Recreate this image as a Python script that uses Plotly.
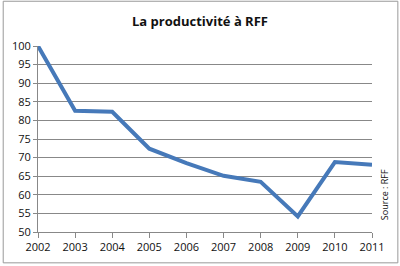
import plotly.graph_objects as go

years = ["2002", "2003", "2004", "2005", "2006", "2007", "2008", "2009", "2010", "2011"]
productivity = [100, 82.6, 82.3, 72.4, 68.5, 65.1, 63.5, 54.2, 68.8, 68.1]
y_ticks = [50, 55, 60, 65, 70, 75, 80, 85, 90, 95, 100]

W, H = 400, 266
L, R, T, B = 36, 28, 46, 33
pw, ph = W - L - R, H - T - B

fig = go.Figure()
fig.add_trace(go.Scatter(
    x=list(range(len(years))), y=productivity, mode="lines",
    line=dict(color="#4679b9", width=4), hoverinfo="skip", showlegend=False,
))

font = "Open Sans, Liberation Sans, Arial, sans-serif"
fig.update_layout(
    width=W, height=H,
    margin=dict(l=L, r=R, t=T, b=B),
    paper_bgcolor="white", plot_bgcolor="white",
    title=dict(text="<b>La productivité à RFF</b>", x=0.5, xanchor="center",
               y=1 - 21 / H, yanchor="middle",
               font=dict(family=font, size=13, color="#111")),
    xaxis=dict(range=[0, len(years) - 1], tickmode="array",
               tickvals=list(range(len(years))), ticktext=years,
               showgrid=False, zeroline=False, showline=True, linecolor="#888",
               linewidth=1, ticks="outside", ticklen=5, tickcolor="#888",
               tickfont=dict(family=font, size=11, color="#111")),
    yaxis=dict(range=[50, 100], tickvals=y_ticks, showgrid=True,
               gridcolor="#888", gridwidth=1, zeroline=False, showline=True,
               linecolor="#888", linewidth=1, ticks="outside", ticklen=4,
               tickcolor="#888", tickfont=dict(family=font, size=11, color="#111")),
    shapes=[dict(type="rect", xref="paper", yref="paper",
                 x0=(1 - L) / pw, x1=(398 - L) / pw,
                 y0=(T + ph - 264) / ph, y1=(T + ph - 1) / ph,
                 line=dict(color="#999", width=1), fillcolor="rgba(0,0,0,0)")],
    annotations=[dict(text="Source : RFF", textangle=-90, xref="paper", yref="paper",
                      x=(384 - L) / pw, y=(T + ph - 195) / ph,
                      xanchor="center", yanchor="middle", showarrow=False,
                      font=dict(family=font, size=9, color="#111"))],
)

fig.write_html("out.html")
